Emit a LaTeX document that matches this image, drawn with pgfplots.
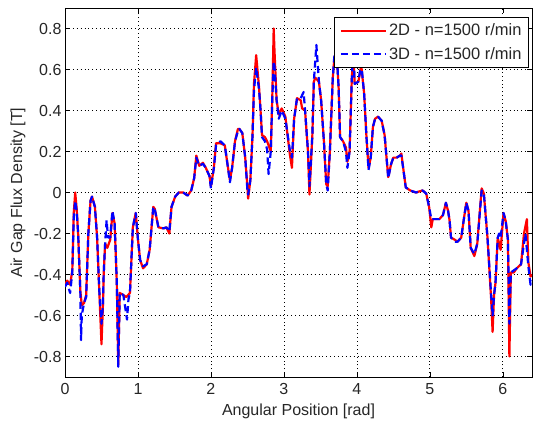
\documentclass[border=0pt]{standalone}
\usepackage{pgfplots}
\pgfplotsset{compat=1.18}
\usepackage{pgfplotstable}
\usepackage{fontspec}
\setmainfont{Liberation Sans}

% 2D finite-element result
\pgfplotstableread{
x y
0.00 -0.45
0.03 -0.43
0.07 -0.45
0.10 -0.38
0.12 -0.10
0.14 0.00
0.16 -0.08
0.18 -0.20
0.21 -0.48
0.23 -0.55
0.26 -0.54
0.29 -0.50
0.32 -0.20
0.35 -0.04
0.37 -0.02
0.41 -0.07
0.44 -0.22
0.47 -0.48
0.50 -0.74
0.52 -0.55
0.53 -0.40
0.55 -0.25
0.58 -0.27
0.62 -0.23
0.65 -0.10
0.68 -0.15
0.71 -0.44
0.73 -0.84
0.75 -0.49
0.80 -0.50
0.84 -0.51
0.89 -0.49
0.93 -0.17
0.97 -0.10
1.00 -0.23
1.03 -0.33
1.07 -0.37
1.12 -0.35
1.16 -0.28
1.21 -0.07
1.23 -0.08
1.28 -0.17
1.35 -0.175
1.39 -0.17
1.43 -0.20
1.46 -0.07
1.51 -0.02
1.56 0.00
1.62 0.00
1.68 -0.015
1.73 0.01
1.77 0.07
1.80 0.18
1.84 0.13
1.89 0.145
1.93 0.12
1.98 0.08
2.00 0.03
2.04 0.12
2.07 0.24
2.13 0.24
2.19 0.23
2.22 0.155
2.26 0.06
2.29 0.12
2.33 0.25
2.37 0.31
2.39 0.31
2.43 0.29
2.47 0.17
2.50 0.025
2.51 -0.03
2.54 0.06
2.57 0.28
2.59 0.53
2.62 0.67
2.66 0.51
2.68 0.40
2.70 0.28
2.74 0.27
2.77 0.25
2.80 0.22
2.82 0.20
2.84 0.45
2.86 0.80
2.87 0.70
2.90 0.45
2.93 0.38
2.97 0.41
3.02 0.37
3.06 0.25
3.08 0.19
3.11 0.12
3.14 0.36
3.18 0.46
3.23 0.45
3.25 0.41
3.29 0.40
3.33 0.20
3.35 -0.01
3.39 0.28
3.41 0.54
3.43 0.56
3.48 0.54
3.51 0.45
3.55 0.24
3.58 0.04
3.60 0.03
3.63 0.20
3.67 0.56
3.69 0.65
3.72 0.70
3.75 0.51
3.77 0.27
3.81 0.25
3.85 0.22
3.87 0.15
3.90 0.20
3.93 0.55
3.95 0.68
3.97 0.53
4.02 0.54
4.06 0.62
4.10 0.48
4.13 0.28
4.16 0.12
4.19 0.17
4.22 0.32
4.25 0.36
4.29 0.37
4.34 0.35
4.38 0.28
4.41 0.155
4.43 0.075
4.47 0.14
4.50 0.17
4.545 0.17
4.59 0.18
4.61 0.19
4.64 0.105
4.67 0.025
4.73 0.01
4.81 0.00
4.90 0.01
4.95 -0.005
4.99 -0.07
5.02 -0.17
5.04 -0.13
5.06 -0.13
5.13 -0.13
5.18 -0.11
5.22 -0.05
5.25 -0.09
5.27 -0.135
5.29 -0.22
5.34 -0.23
5.38 -0.24
5.43 -0.22
5.47 -0.12
5.50 -0.05
5.53 -0.09
5.56 -0.27
5.61 -0.31
5.65 -0.25
5.71 0.02
5.74 -0.005
5.79 -0.22
5.84 -0.52
5.86 -0.68
5.88 -0.50
5.90 -0.44
5.93 -0.22
5.97 -0.28
6.01 -0.10
6.04 -0.14
6.07 -0.23
6.09 -0.80
6.11 -0.39
6.15 -0.39
6.19 -0.37
6.25 -0.35
6.29 -0.20
6.33 -0.13
6.35 -0.34
6.38 -0.41
6.40 -0.40
}\twoD

% 3D finite-element result
\pgfplotstableread{
x y
0.00 -0.46
0.03 -0.44
0.07 -0.49
0.10 -0.39
0.12 -0.12
0.14 -0.04
0.16 -0.09
0.18 -0.20
0.21 -0.48
0.22 -0.72
0.23 -0.60
0.26 -0.54
0.29 -0.51
0.32 -0.20
0.35 -0.04
0.37 -0.02
0.41 -0.07
0.44 -0.22
0.47 -0.48
0.50 -0.64
0.52 -0.55
0.53 -0.40
0.55 -0.25
0.57 -0.135
0.59 -0.22
0.62 -0.22
0.65 -0.09
0.68 -0.15
0.71 -0.44
0.73 -0.85
0.75 -0.49
0.80 -0.50
0.85 -0.62
0.87 -0.52
0.89 -0.49
0.93 -0.17
0.97 -0.10
1.00 -0.23
1.03 -0.33
1.07 -0.36
1.12 -0.35
1.16 -0.28
1.21 -0.07
1.23 -0.08
1.28 -0.17
1.35 -0.175
1.39 -0.17
1.43 -0.19
1.46 -0.07
1.51 -0.02
1.56 0.00
1.62 0.00
1.68 -0.015
1.73 0.01
1.77 0.07
1.80 0.17
1.84 0.13
1.89 0.14
1.93 0.12
1.98 0.08
2.00 0.02
2.04 0.12
2.07 0.23
2.13 0.25
2.19 0.23
2.22 0.155
2.26 0.05
2.29 0.12
2.33 0.25
2.37 0.30
2.39 0.31
2.43 0.29
2.47 0.17
2.50 0.01
2.51 -0.01
2.54 0.06
2.57 0.28
2.59 0.50
2.62 0.61
2.66 0.50
2.68 0.40
2.70 0.27
2.74 0.25
2.77 0.21
2.79 0.09
2.82 0.20
2.84 0.45
2.86 0.64
2.87 0.62
2.90 0.45
2.93 0.36
2.97 0.40
3.02 0.36
3.06 0.26
3.08 0.21
3.11 0.17
3.14 0.36
3.18 0.46
3.23 0.46
3.27 0.49
3.29 0.40
3.33 0.20
3.35 0.03
3.39 0.28
3.41 0.54
3.445 0.72
3.48 0.54
3.51 0.45
3.55 0.24
3.58 0.04
3.60 0.01
3.63 0.20
3.67 0.56
3.69 0.66
3.72 0.70
3.75 0.51
3.77 0.27
3.81 0.25
3.85 0.20
3.87 0.12
3.90 0.20
3.93 0.55
3.95 0.70
3.97 0.53
4.02 0.54
4.06 0.63
4.10 0.48
4.13 0.28
4.16 0.11
4.19 0.17
4.22 0.32
4.25 0.36
4.29 0.37
4.34 0.35
4.38 0.28
4.41 0.155
4.43 0.07
4.47 0.14
4.50 0.17
4.545 0.17
4.59 0.18
4.61 0.18
4.64 0.105
4.67 0.025
4.73 0.01
4.81 0.00
4.90 0.01
4.95 -0.005
4.99 -0.07
5.02 -0.13
5.04 -0.13
5.06 -0.13
5.13 -0.13
5.18 -0.11
5.22 -0.05
5.25 -0.09
5.27 -0.135
5.29 -0.22
5.34 -0.24
5.38 -0.24
5.43 -0.22
5.47 -0.12
5.50 -0.05
5.53 -0.09
5.56 -0.27
5.61 -0.30
5.65 -0.25
5.71 0.01
5.74 -0.005
5.79 -0.22
5.84 -0.50
5.86 -0.60
5.88 -0.50
5.90 -0.44
5.93 -0.22
5.95 -0.20
5.97 -0.22
6.01 -0.10
6.04 -0.14
6.07 -0.23
6.09 -0.64
6.11 -0.39
6.15 -0.38
6.19 -0.37
6.25 -0.35
6.29 -0.25
6.31 -0.20
6.35 -0.36
6.38 -0.45
6.40 -0.43
}\threeD

\begin{document}
\begin{tikzpicture}
% fixed page frame around the axis box
\useasboundingbox (-65pt,-46pt) rectangle (469pt,377pt);
\begin{axis}[
  at={(0pt,0pt)}, anchor=south west,
  scale only axis,
  width=467pt, height=369pt,
  xmin=0, xmax=6.4,
  ymin=-0.9, ymax=0.9,
  xtick={0,1,2,3,4,5,6},
  ytick={-0.8,-0.6,-0.4,-0.2,0,0.2,0.4,0.6,0.8},
  /pgf/number format/assume math mode=true,
  /pgf/number format/fixed,
  /pgf/number format/precision=1,
  tick label style={font=\fontsize{16}{19}\selectfont, text=black!85},
  xticklabel style={yshift=-3pt},
  label style={font=\fontsize{16}{19}\selectfont, text=black!85},
  tick align=inside,
  major tick length=5pt,
  tick style={black, line width=0.6pt},
  axis line style={black, line width=0.8pt},
  grid=major,
  major grid style={black, line width=0.7pt, dash pattern=on 0.9pt off 3pt},
  xlabel={Angular Position [rad]},
  ylabel={Air Gap Flux Density [T]},
  xlabel style={at={(axis description cs:0.5,0)}, anchor=north, inner sep=0pt, yshift=-27pt},
  ylabel style={at={(axis description cs:0,0.5)}, anchor=center, inner sep=0pt, yshift=47pt},
  legend style={
    at={(1,1)}, anchor=north east, xshift=-3pt, yshift=-9pt,
    font=\fontsize{16.5}{19}\selectfont, text=black!85,
    draw=black, line width=0.8pt, fill=white,
    inner xsep=5pt, inner ysep=4.5pt,
    row sep=6pt,
    cells={anchor=west},
  },
  legend image code/.code={
    \draw[#1] (0pt,0pt) -- (45pt,0pt);
  },
]
\addplot[red, line width=2.2pt, line join=round] table[x=x, y=y] {\twoD};
\addlegendentry{2D - n=1500 r/min}
\addplot[blue, line width=2.2pt, line join=round, dash pattern=on 7pt off 4pt] table[x=x, y=y] {\threeD};
\addlegendentry{3D - n=1500 r/min}
\end{axis}
\end{tikzpicture}
\end{document}
